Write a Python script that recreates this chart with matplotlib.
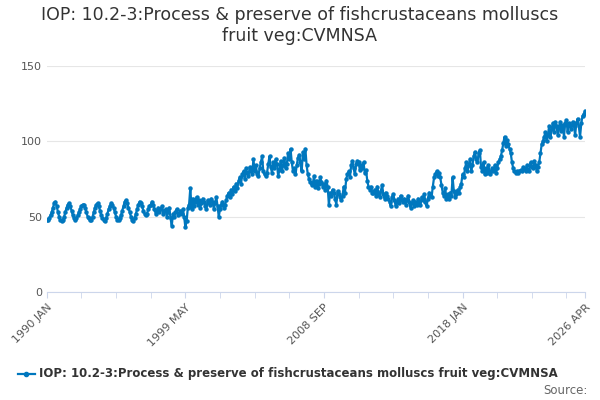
import matplotlib.pyplot as plt
import numpy as np

title = "IOP: 10.2-3:Process & preserve of fishcrustaceans molluscs\nfruit veg:CVMNSA"
series_name = "IOP: 10.2-3:Process & preserve of fishcrustaceans molluscs fruit veg:CVMNSA"

# monthly values
vals_1990s = [
    48, 48, 49, 51, 53, 56, 59, 60, 57, 53, 50, 48,
    47, 48, 50, 53, 56, 58, 59, 57, 54, 51, 49, 48,
    49, 51, 53, 55, 57, 58, 58, 56, 53, 50, 49, 48,
    48, 50, 53, 56, 58, 59, 57, 54, 51, 49, 48, 47,
    49, 52, 55, 57, 59, 58, 56, 53, 50, 48, 48, 49,
    51, 54, 57, 60, 61, 59, 56, 53, 50, 48, 47, 49,
    52, 55, 58, 60, 59, 57, 54, 52, 51, 52, 55, 57,
    58, 60, 58, 55, 52, 54, 56, 53, 55, 57, 52, 54,
    55, 50, 53, 56, 49, 44, 52, 50, 53, 55, 51, 52,
    54, 52, 55, 50, 43, 47, 56, 58, 69, 55, 62, 57,
]
vals_2000s = [
    60, 63, 58, 61, 56, 59, 62, 60, 57, 55, 61, 59,
    58, 62, 60, 55, 59, 63, 57, 50, 55, 58, 60, 56,
    58, 61, 64, 66, 63, 68, 65, 70, 67, 72, 69, 74,
    76, 72, 78, 80, 75, 82, 79, 77, 83, 80, 78, 88,
    80, 84, 78, 77, 82, 86, 90, 80, 78, 77, 79, 85,
    90, 83, 79, 86, 82, 88, 85, 77, 81, 87, 80, 84,
    89, 82, 85, 92, 88, 95, 86, 80, 82, 78, 84, 89,
    91, 86, 80, 93, 88, 95, 84, 78, 75, 73, 71, 72,
    77, 70, 74, 69, 72, 76, 73, 70, 72, 68, 74, 70,
    58, 66, 64, 68, 66, 62, 58, 67, 65, 63, 61, 64,
]
vals_2010s = [
    70, 66, 75, 78, 80, 76, 84, 87, 82, 78, 85, 87,
    86, 81, 84, 82, 86, 79, 81, 74, 70, 68, 70, 66,
    66, 68, 64, 70, 66, 63, 67, 71, 65, 62, 66, 64,
    62, 60, 57, 63, 65, 61, 57, 60, 62, 59, 64, 61,
    60, 62, 58, 61, 64, 60, 56, 59, 61, 57, 60, 58,
    62, 60, 58, 63, 61, 65, 60, 57, 62, 66, 64, 63,
    70, 76, 78, 80, 77, 79, 76, 71, 66, 64, 69, 62,
    65, 62, 66, 64, 76, 67, 63, 65, 68, 66, 70, 72,
    78, 76, 82, 86, 80, 84, 88, 80, 84, 90, 93, 88,
    86, 92, 94, 83, 80, 86, 78, 82, 79, 84, 78, 80,
]
vals_2020s = [
    82, 80, 84, 79, 82, 86, 88, 90, 94, 99, 103, 97,
    101, 98, 95, 92, 86, 82, 80, 79, 80, 79, 80, 81,
    80, 83, 82, 80, 84, 81, 80, 86, 83, 82, 87, 84,
    80, 83, 86, 92, 98, 100, 103, 106, 100, 104, 110, 103,
    108, 112, 106, 113, 110, 104, 109, 113, 107, 111, 103, 112,
    114, 106, 112, 110, 108, 113, 111, 104, 112, 115, 110, 103,
    112, 117, 118, 120,
]

values = vals_1990s + vals_2000s + vals_2010s + vals_2020s
months = np.arange(len(values))
tick_pos = [0, 112, 224, 336, 435]
tick_labels = ["1990 JAN", "1999 MAY", "2008 SEP", "2018 JAN", "2026 APR"]

fig = plt.figure(figsize=(6, 4), dpi=100)
ax = fig.add_axes([0.078, 0.27, 0.897, 0.565])
col = "#0077be"
ax.plot(months, values, color=col, lw=1.6, marker="o", ms=2.2)
ax.set_xlim(0, len(values) - 1)
ax.set_ylim(0, 150)
ax.set_yticks([0, 50, 100, 150])
ax.set_xticks(tick_pos)
ax.set_xticks(np.arange(0, len(values), 28), minor=True)
ax.set_xticklabels(tick_labels, rotation=45, ha="right", rotation_mode="anchor", fontsize=8, color="#555555")
ax.tick_params(axis="y", length=0, labelsize=8, labelcolor="#555555")
ax.tick_params(axis="x", which="both", length=4, color="#ccd6eb")
ax.grid(axis="y", color="#e6e6e6", lw=0.8)
for s in ["top", "right", "left"]:
    ax.spines[s].set_visible(False)
ax.spines["bottom"].set_color("#ccd6eb")

fig.suptitle(title, y=0.985, fontsize=12.5, color="#333333")
ax.plot([0.03, 0.058], [0.065, 0.065], color=col, lw=1.6, transform=fig.transFigure, clip_on=False)
ax.plot([0.044], [0.065], "o", color=col, ms=3, transform=fig.transFigure, clip_on=False)
fig.text(0.065, 0.065, series_name, fontsize=8.5, weight="bold", color="#333333", va="center")
fig.text(0.98, 0.025, "Source:", fontsize=8.5, color="#666666", ha="right", va="center")

fig.savefig("out.png", dpi=100)
